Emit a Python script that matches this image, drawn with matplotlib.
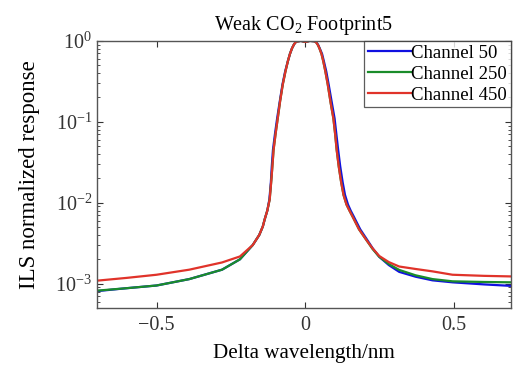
import matplotlib
matplotlib.use("Agg")
import matplotlib.pyplot as plt
from matplotlib.ticker import LogLocator, NullFormatter, FixedLocator

plt.rcParams['font.family'] = ['Liberation Serif', 'DejaVu Serif']
plt.rcParams['mathtext.fontset'] = 'custom'
plt.rcParams['mathtext.rm'] = 'Liberation Serif'

# delta wavelength (nm) and normalized response
x_red = [-0.70, -0.60, -0.50, -0.39, -0.28, -0.22, -0.177, -0.155, -0.143, -0.137, -0.128, -0.12,
         -0.115, -0.111, -0.107, -0.100, -0.093, -0.085, -0.076, -0.067, -0.059, -0.052, -0.045,
         -0.038, -0.031, -0.015, 0.0, 0.015, 0.030, 0.036, 0.042, 0.047, 0.054, 0.06, 0.067,
         0.075, 0.085, 0.094, 0.100, 0.105, 0.112, 0.12, 0.128, 0.138, 0.148, 0.158, 0.180,
         0.204, 0.225, 0.248, 0.28, 0.315, 0.37, 0.427, 0.494, 0.60, 0.69]
y_red = [1.09e-3, 1.18e-3, 1.29e-3, 1.49e-3, 1.83e-3, 2.17e-3, 3.0e-3, 4.0e-3, 5.1e-3, 6.2e-3, 8.0e-3, 1.1e-2,
         1.8e-2, 2.8e-2, 4.5e-2, 7.2e-2, 0.11, 0.18, 0.29, 0.42, 0.56, 0.69, 0.81,
         0.91, 0.98, 1.0, 0.97, 1.0, 0.99, 0.96, 0.89, 0.81, 0.69, 0.56, 0.42,
         0.29, 0.17, 0.11, 0.07, 0.045, 0.028, 0.018, 0.0125, 0.0095, 0.0080, 6.8e-3, 4.7e-3,
         3.5e-3, 2.75e-3, 2.2e-3, 1.85e-3, 1.63e-3, 1.52e-3, 1.42e-3, 1.29e-3, 1.25e-3, 1.23e-3]

x_green = x_red
y_green = [8.2e-4, 8.8e-4, 9.5e-4, 1.14e-3, 1.49e-3, 2.0e-3, 3.0e-3, 4.0e-3, 5.1e-3, 6.2e-3, 8.0e-3, 1.1e-2,
           1.8e-2, 2.8e-2, 4.5e-2, 7.2e-2, 0.11, 0.18, 0.29, 0.42, 0.56, 0.69, 0.81,
           0.91, 0.98, 1.0, 0.97, 1.0, 0.99, 0.96, 0.89, 0.81, 0.69, 0.56, 0.42,
           0.29, 0.17, 0.11, 0.07, 0.045, 0.028, 0.018, 0.0125, 0.0095, 0.0080, 6.8e-3, 4.7e-3,
           3.5e-3, 2.7e-3, 2.15e-3, 1.75e-3, 1.48e-3, 1.27e-3, 1.14e-3, 1.07e-3, 1.05e-3, 1.04e-3]

x_blue = [-0.70, -0.60, -0.50, -0.39, -0.28, -0.22, -0.177, -0.155, -0.143, -0.137, -0.128, -0.121,
          -0.116, -0.113, -0.109, -0.102, -0.095, -0.086, -0.077, -0.068, -0.059, -0.052, -0.045,
          -0.038, -0.031, -0.015, 0.0, 0.015, 0.030, 0.037, 0.043, 0.048, 0.056, 0.062, 0.070,
          0.078, 0.089, 0.098, 0.104, 0.110, 0.117, 0.125, 0.133, 0.143, 0.152, 0.162, 0.184,
          0.207, 0.227, 0.248, 0.28, 0.315, 0.37, 0.427, 0.494, 0.60, 0.69]
y_blue = [8.1e-4, 8.8e-4, 9.5e-4, 1.14e-3, 1.49e-3, 2.0e-3, 3.0e-3, 4.0e-3, 5.1e-3, 6.2e-3, 8.0e-3, 1.1e-2,
          1.8e-2, 2.8e-2, 4.5e-2, 7.2e-2, 0.11, 0.18, 0.29, 0.42, 0.56, 0.69, 0.81,
          0.91, 0.98, 1.0, 0.97, 1.0, 0.99, 0.96, 0.89, 0.81, 0.69, 0.56, 0.42,
          0.29, 0.17, 0.11, 0.07, 0.045, 0.028, 0.018, 0.0125, 0.0095, 0.0080, 6.8e-3, 4.7e-3,
          3.5e-3, 2.7e-3, 2.15e-3, 1.7e-3, 1.4e-3, 1.22e-3, 1.1e-3, 1.04e-3, 9.8e-4, 9.4e-4]

labels = ["Channel 50", "Channel 250", "Channel 450"]

fig = plt.figure(figsize=(5.16, 3.65), dpi=100)
ax = fig.add_axes([0.188, 0.156, 0.802, 0.732])

ax.plot(x_blue, y_blue, color='#1010e0', lw=1.6, label=labels[0])
ax.plot(x_green, y_green, color='#1a8c2a', lw=1.6, label=labels[1])
ax.plot(x_red, y_red, color='#e0332a', lw=1.6, label=labels[2])

ax.set_yscale('log')
ax.set_xlim(-0.70, 0.69)
ax.set_ylim(5e-4, 1.0)
ax.xaxis.set_major_locator(FixedLocator([-0.5, 0, 0.5]))
ax.set_xticklabels(['\u22120.5', '0', '0.5'])
ax.yaxis.set_major_locator(FixedLocator([1e-3, 1e-2, 1e-1, 1]))
ax.yaxis.set_minor_locator(LogLocator(base=10, subs=range(2, 10)))
ax.yaxis.set_minor_formatter(NullFormatter())

ax.tick_params(which='both', direction='in', top=True, right=True, labelsize=14.5, colors='#333333')
ax.tick_params(which='major', length=4)
ax.tick_params(which='minor', length=2)
ax.tick_params(axis='x', pad=6)
for s in ax.spines.values():
    s.set_color('#555555')
    s.set_linewidth(1.0)

ax.set_title('Weak CO$_2$ Footprint5', fontsize=14.5, pad=8)
ax.set_xlabel('Delta wavelength/nm', fontsize=15.2, labelpad=6)
ax.set_ylabel('ILS normalized response', fontsize=16.5, labelpad=11)

leg = ax.legend(loc='upper right', fontsize=13.5, frameon=True, fancybox=False,
                borderpad=0.2, handlelength=2.3, handletextpad=0.0, labelspacing=0.2,
                borderaxespad=0.0)
leg.get_frame().set_edgecolor('#333333')
leg.get_frame().set_linewidth(0.9)

fig.savefig('out.png', dpi=100)
